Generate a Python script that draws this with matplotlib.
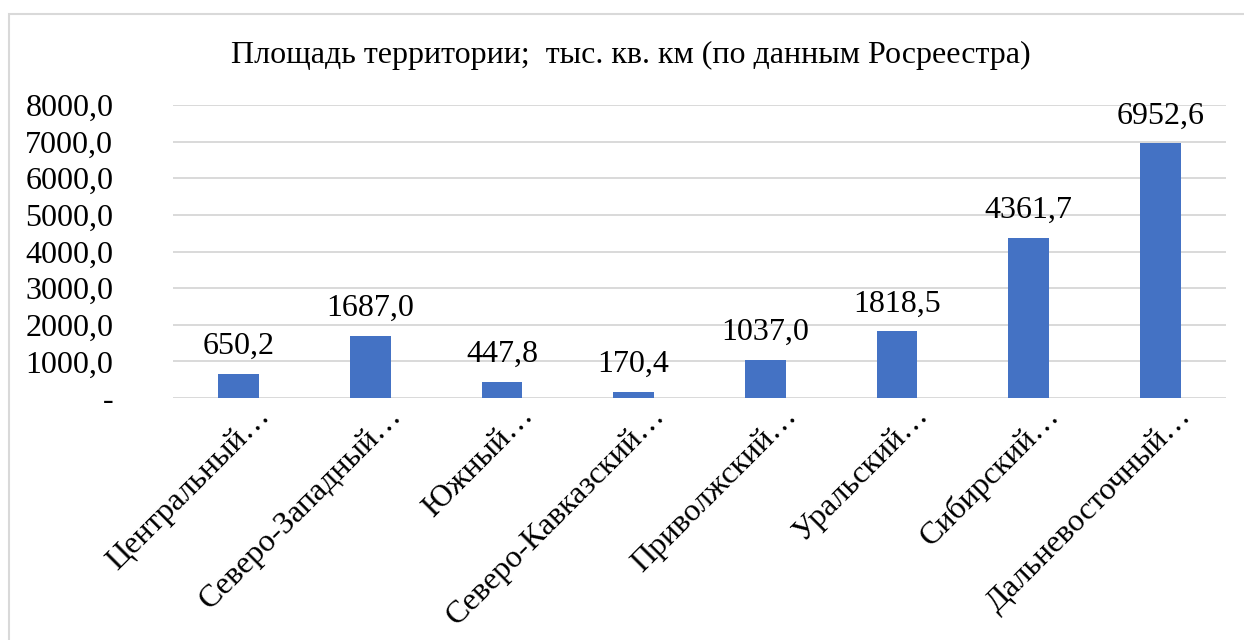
import matplotlib
matplotlib.use("Agg")
import matplotlib.pyplot as plt
from matplotlib.patches import Rectangle
from matplotlib.ticker import FixedLocator, FuncFormatter
import matplotlib.transforms as mtransforms

categories = ["Центральный…", "Северо-Западный…", "Южный…", "Северо-Кавказский…",
              "Приволжский…", "Уральский…", "Сибирский…", "Дальневосточный…"]
values = [650.2, 1687.0, 447.8, 170.4, 1037.0, 1818.5, 4361.7, 6952.6]
yticks = [0, 1000, 2000, 3000, 4000, 5000, 6000, 7000, 8000]
title = "Площадь территории;  тыс. кв. км (по данным Росреестра)"

plt.rcParams['font.family'] = ['Liberation Serif', 'DejaVu Serif']

W, H = 1244, 640
FS = 23
fig = plt.figure(figsize=(W / 100, H / 100), dpi=100)
fig.patch.set_facecolor('white')

# chart border
fig.patches.append(Rectangle((8.5 / W, -0.1), 1.2, 1 - 13.5 / H + 0.1,
                             transform=fig.transFigure, fill=False,
                             edgecolor='#D9D9D9', linewidth=1.5))

ax = fig.add_axes([173 / W, 1 - 398 / H, (1226 - 173) / W, (398 - 105) / H])
x = list(range(len(categories)))
ax.bar(x, values, width=0.31, color='#4472C4', zorder=3)
ax.set_xlim(-0.5, len(categories) - 0.5)
ax.set_ylim(0, 8000)
ax.yaxis.set_major_locator(FixedLocator(yticks))
ax.yaxis.set_major_formatter(FuncFormatter(
    lambda v, p: "-" if v == 0 else f"{v:.1f}".replace('.', ',')))
ax.grid(axis='y', color='#D9D9D9', linewidth=1.4, zorder=0)
for s in ax.spines.values():
    s.set_visible(False)
ax.tick_params(axis='y', length=0, pad=43, labelsize=FS)
ax.tick_params(axis='x', length=0, labelsize=FS)

ax.set_xticks(x)
ax.set_xticklabels(categories, rotation=45, ha='right', va='center',
                   rotation_mode='anchor')
offset = mtransforms.ScaledTranslation(27 / 100, -9 / 100, fig.dpi_scale_trans)
for lbl in ax.get_xticklabels():
    lbl.set_transform(lbl.get_transform() + offset)

for xi, v in zip(x, values):
    ax.annotate(f"{v:.1f}".replace('.', ','), (xi, v), xytext=(0, 14.4),
                textcoords='offset points', ha='center', va='baseline',
                fontsize=FS, color='black')

fig.text(631 / W, 1 - 63 / H, title, ha='center', va='baseline', fontsize=FS)

fig.savefig('out.png', dpi=100)
